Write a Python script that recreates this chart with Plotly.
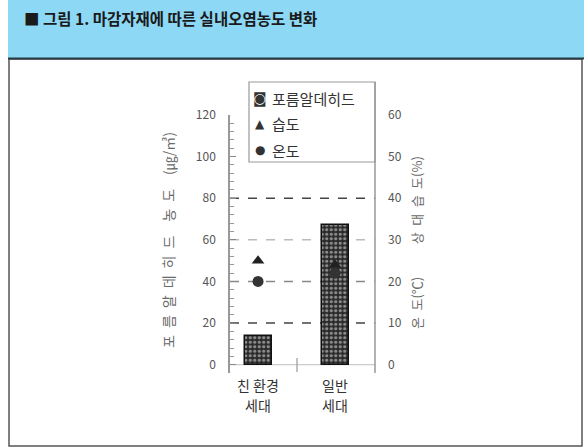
import plotly.graph_objects as go

categories = ["친 환경\n세대", "일반\n세대"]
formaldehyde = [14, 67]          # ㎍/㎥ (left axis)
humidity = [25, 24]              # % (right axis)
temperature = [20, 22]           # ℃ (right axis)
series_names = ["포름알데히드", "습도", "온도"]
legend_symbols = ["◙", "▲", "●"]
left_ticks = [0, 20, 40, 60, 80, 100, 120]
right_ticks = [0, 10, 20, 30, 40, 50, 60]
grid_levels = [20, 40, 60, 80]
grid_colors = ["#444", "#888", "#bbb", "#444"]

W, H = 584, 448
L, R, T, B = 230, 375, 115, 373
FONT = "Noto Sans CJK KR"
SP = "\u2002"


def px(x):
    return (x - L) / (R - L)


def py(y):
    return (B - y) / (B - T)


def spaced(word):
    return SP.join(list(word))


fig = go.Figure()

fig.add_trace(go.Bar(
    x=categories, y=formaldehyde, name=series_names[0], width=0.35,
    marker=dict(color="#333", line=dict(color="#111", width=1.5),
                pattern=dict(shape=".", bgcolor="#2a2a2a", fgcolor="#f2f2f2",
                             size=4.5, solidity=0.4)),
))
fig.add_trace(go.Scatter(
    x=categories, y=humidity, name=series_names[1], mode="markers", yaxis="y2",
    marker=dict(symbol="triangle-up", size=11, color="#222"),
))
fig.add_trace(go.Scatter(
    x=categories, y=temperature, name=series_names[2], mode="markers", yaxis="y2",
    marker=dict(symbol="circle", size=11, color="#333"),
))

shapes = []
# header band
shapes.append(dict(type="rect", xref="paper", yref="paper", x0=px(8), x1=px(584),
                   y0=py(58), y1=py(0), fillcolor="#8dd8f5", line=dict(width=0), layer="below"))
# outer box
shapes.append(dict(type="rect", xref="paper", yref="paper", x0=px(9), x1=px(582),
                   y0=py(446), y1=py(59), line=dict(color="#555", width=1.5), layer="below"))
shapes.append(dict(type="line", xref="paper", yref="paper", x0=px(8), x1=px(584),
                   y0=py(58.5), y1=py(58.5), line=dict(color="#2a3a44", width=2)))
# grid lines
for lvl, col in zip(grid_levels, grid_colors):
    shapes.append(dict(type="line", xref="paper", yref="y", x0=0, x1=1, y0=lvl, y1=lvl,
                       line=dict(color=col, width=1.5, dash="dash"), layer="below"))
# zero line
shapes.append(dict(type="line", xref="paper", yref="y", x0=0, x1=1, y0=0, y1=0,
                   line=dict(color="#ccc", width=1.2), layer="below"))
# category separator tick
shapes.append(dict(type="line", xref="paper", yref="paper", x0=px(297), x1=px(297),
                   y0=py(372), y1=py(358), line=dict(color="#999", width=1.2)))
# legend box
shapes.append(dict(type="rect", xref="paper", yref="paper", x0=px(249), x1=px(375),
                   y0=py(162), y1=py(82), fillcolor="white",
                   line=dict(color="#999", width=1.2)))
# right axis line (extends up to legend)
shapes.append(dict(type="line", xref="paper", yref="paper", x0=1, x1=1,
                   y0=0, y1=py(82), line=dict(color="#999", width=1.5)))

annotations = [
    dict(text="<b>■ 그림 1. 마감자재에 따른 실내오염농도 변화</b>", xref="paper", yref="paper",
         x=px(22), y=py(18), xanchor="left", yanchor="middle", showarrow=False,
         font=dict(family=FONT, size=15.5, color="#1a1a1a")),
    dict(text=spaced("포름알데히드") + SP * 2 + spaced("농도") + SP * 2 + "(㎍/㎥)",
         xref="paper", yref="paper", x=px(168), y=py(240),
         textangle=-90, showarrow=False, xanchor="center", yanchor="middle",
         font=dict(family=FONT, size=14, color="#6a6a6a")),
    dict(text=spaced("온도") + "(℃)" + SP * 5 + spaced("상대습도") + "(%)",
         xref="paper", yref="paper", x=px(416), y=py(243),
         textangle=-90, showarrow=False, xanchor="center", yanchor="middle",
         font=dict(family=FONT, size=13, color="#6a6a6a")),
]

# category labels (two lines each), placed on the x scale
for cat in categories:
    for i, line in enumerate(cat.split("\n")):
        annotations.append(dict(text=line, xref="x", yref="paper", x=cat, y=py(385 + 20 * i),
                                showarrow=False, xanchor="center", yanchor="middle",
                                font=dict(family=FONT, size=14, color="#333")))

# manual legend
for i, (sym, name) in enumerate(zip(legend_symbols, series_names)):
    yc = py(98 + 26 * i)
    annotations.append(dict(text=sym, xref="paper", yref="paper", x=px(260), y=yc,
                            showarrow=False, xanchor="center", yanchor="middle",
                            font=dict(family="DejaVu Sans", size=14 if i == 0 else 12,
                                      color="#333")))
    annotations.append(dict(text=name, xref="paper", yref="paper", x=px(270), y=yc,
                            showarrow=False, xanchor="left", yanchor="middle",
                            font=dict(family=FONT, size=15, color="#333")))

fig.update_layout(
    width=W, height=H,
    margin=dict(l=L, r=W - R, t=T, b=H - B, pad=0),
    paper_bgcolor="white", plot_bgcolor="white",
    font=dict(family=FONT, color="#444"),
    bargap=0,
    showlegend=False,
    xaxis=dict(type="category", range=[-0.364, 1.519], showgrid=False, showline=False,
               ticks="", showticklabels=False, fixedrange=True),
    yaxis=dict(range=[-4, 120], tickvals=left_ticks, showgrid=False, zeroline=False,
               showline=True, linecolor="#999", linewidth=1.5,
               ticks="inside", ticklen=6, tickcolor="#888",
               minor=dict(dtick=4, ticks="inside", ticklen=4, tickcolor="#999"),
               tickfont=dict(size=12, color="#555"), ticklabelstandoff=10),
    yaxis2=dict(range=[-2, 60], tickvals=right_ticks, overlaying="y", side="right",
                showgrid=False, zeroline=False, showline=False, ticks="",
                tickfont=dict(size=12, color="#555"), ticklabelstandoff=12),
    shapes=shapes, annotations=annotations,
)

fig.write_html("out.html")
